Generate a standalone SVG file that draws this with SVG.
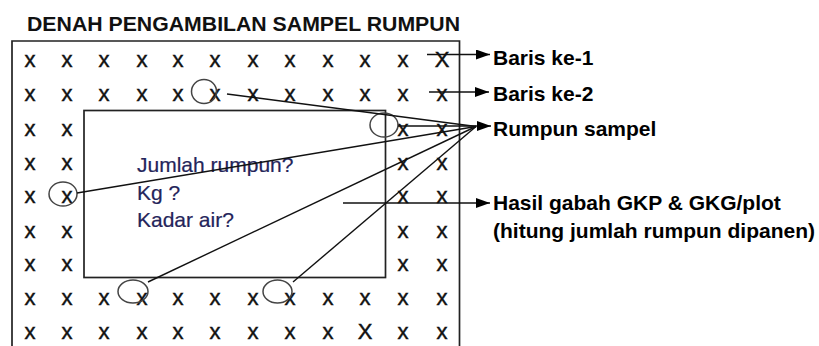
<svg xmlns="http://www.w3.org/2000/svg" width="819" height="346" viewBox="0 0 819 346">
<defs>
<style>
.t{font-family:"Liberation Sans",Arial,sans-serif;}
.title{font-size:21px;font-weight:bold;fill:#111;}
.lbl{font-size:21px;font-weight:bold;fill:#000;}
.x{font-size:22px;fill:#111;stroke:#111;stroke-width:0.45;text-anchor:middle;}
.q{font-size:21px;fill:#24245a;stroke:#24245a;stroke-width:0.2;}
.box{fill:none;stroke:#222;stroke-width:1.7;}
.ell{fill:none;stroke:#444;stroke-width:1.5;}
.ln{fill:none;stroke:#111;stroke-width:1.4;}
</style>
<marker id="ah" viewBox="0 0 14 10" refX="14" refY="5" markerWidth="14" markerHeight="10" markerUnits="userSpaceOnUse" orient="auto">
<path d="M0,0 L14,5 L0,10 Z" fill="#000"/>
</marker>
</defs>
<rect width="819" height="346" fill="#fff"/>
<g id="title"><text class="t title" x="27" y="30.5" textLength="433" lengthAdjust="spacingAndGlyphs">DENAH PENGAMBILAN SAMPEL RUMPUN</text></g>
<g id="plot">
<path class="box" d="M12,350 V41 H459.5 V350"/>
<g class="t x">
<text x="30" y="67">x</text><text x="67" y="67">x</text><text x="104" y="67">x</text><text x="142" y="67">x</text><text x="178" y="67">x</text><text x="215" y="67">x</text><text x="253" y="67">x</text><text x="290" y="67">x</text><text x="328" y="67">x</text><text x="365" y="67">x</text><text x="403" y="67">x</text><text x="442" y="67">X</text>
<text x="30" y="101">x</text><text x="67" y="101">x</text><text x="104" y="101">x</text><text x="142" y="101">x</text><text x="178" y="101">x</text><text x="215" y="101">x</text><text x="253" y="101">x</text><text x="290" y="101">x</text><text x="328" y="101">x</text><text x="365" y="101">x</text><text x="403" y="101">x</text><text x="442" y="101">x</text>
<text x="30" y="136">x</text><text x="67" y="136">x</text><text x="403" y="136">x</text><text x="442" y="136">x</text>
<text x="30" y="169.5">x</text><text x="67" y="169.5">x</text><text x="403" y="169.5">x</text><text x="442" y="169.5">x</text>
<text x="30" y="203">x</text><text x="67" y="203">x</text><text x="403" y="203">x</text><text x="442" y="203">x</text>
<text x="30" y="237.5">x</text><text x="67" y="237.5">x</text><text x="403" y="237.5">x</text><text x="442" y="237.5">x</text>
<text x="30" y="270.5">x</text><text x="67" y="270.5">x</text><text x="403" y="270.5">x</text><text x="442" y="270.5">x</text>
<text x="30" y="304.5">x</text><text x="67" y="304.5">x</text><text x="104" y="304.5">x</text><text x="142" y="304.5">x</text><text x="178" y="304.5">x</text><text x="215" y="304.5">x</text><text x="253" y="304.5">x</text><text x="290" y="304.5">x</text><text x="328" y="304.5">x</text><text x="365" y="304.5">x</text><text x="403" y="304.5">x</text><text x="442" y="304.5">x</text>
<text x="30" y="339">x</text><text x="67" y="339">x</text><text x="104" y="339">x</text><text x="142" y="339">x</text><text x="178" y="339">x</text><text x="215" y="339">x</text><text x="253" y="339">x</text><text x="290" y="339">x</text><text x="328" y="339">x</text><text x="365" y="339">X</text><text x="403" y="339">x</text><text x="442" y="339">x</text>
</g>
</g>
<g id="harvest-box">
<rect class="box" x="84" y="110.5" width="301.5" height="167"/>
<text class="t q" x="137" y="171.5">Jumlah rumpun?</text>
<text class="t q" x="137" y="199.5">Kg ?</text>
<text class="t q" x="137" y="227">Kadar air?</text>
</g>
<g id="samples">
<ellipse class="ell" cx="204" cy="91.5" rx="12.5" ry="12"/>
<ellipse class="ell" cx="384" cy="125" rx="14" ry="12"/>
<ellipse class="ell" cx="63" cy="194" rx="14" ry="12"/>
<ellipse class="ell" cx="133" cy="291.5" rx="15" ry="11.5"/>
<ellipse class="ell" cx="277.5" cy="291.5" rx="14.5" ry="11.5"/>
</g>
<g id="labels" class="t lbl">
<text x="493" y="65">Baris ke-1</text>
<text x="493" y="101">Baris ke-2</text>
<text x="493" y="136">Rumpun sampel</text>
<text x="493" y="210">Hasil gabah GKP &amp; GKG/plot</text>
<text x="493" y="237.5">(hitung jumlah rumpun dipanen)</text>
</g>
<g id="connectors">
<line class="ln" x1="427" y1="54.5" x2="490" y2="54.5" marker-end="url(#ah)"/>
<line class="ln" x1="429" y1="92" x2="489" y2="92" marker-end="url(#ah)"/>
<line class="ln" x1="398" y1="126" x2="491" y2="126" marker-end="url(#ah)"/>
<line class="ln" x1="343" y1="203" x2="490" y2="203" marker-end="url(#ah)"/>
<line class="ln" x1="227" y1="94" x2="476" y2="126.5"/>
<line class="ln" x1="77" y1="193" x2="476" y2="126.5"/>
<line class="ln" x1="148" y1="282" x2="476" y2="126.5"/>
<line class="ln" x1="293" y1="282" x2="476" y2="126.5"/>
</g>
</svg>
